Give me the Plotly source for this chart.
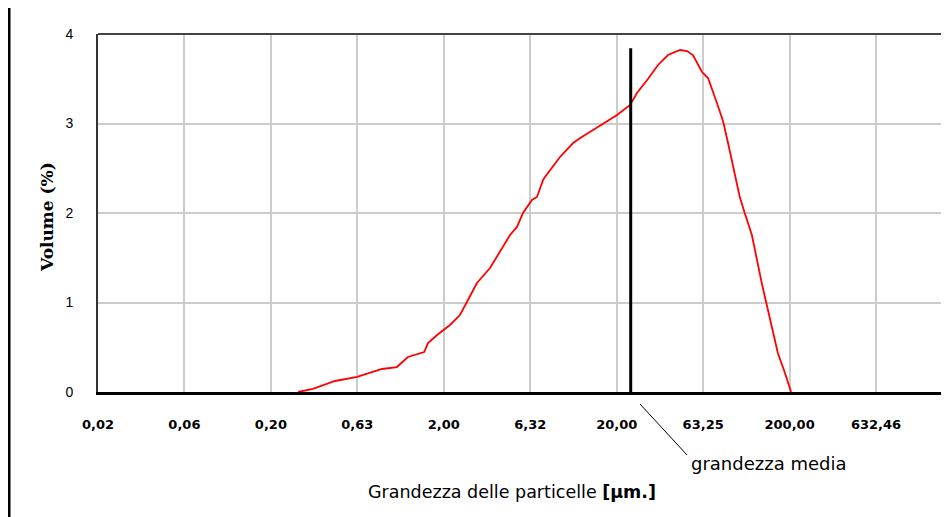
import math
import plotly.graph_objects as go

# Particle size distribution
size_um = [0.287, 0.350, 0.470, 0.630, 0.878, 1.07, 1.24, 1.54, 1.62, 1.83,
           2.17, 2.48, 2.72, 3.11, 3.70, 4.34, 4.83, 5.30, 5.74, 6.47,
           6.92, 7.50, 7.69, 9.40, 11.2, 12.3, 15.6, 17.6, 20.1, 23.9,
           26.2, 30.3, 34.7, 39.6, 46.5, 51.0, 55.2, 62.3, 67.5, 76.0,
           82.4, 88.1, 103, 110, 121, 138, 148, 158, 171, 188, 204]
volume_pct = [0.0, 0.034, 0.123, 0.168, 0.257, 0.279, 0.391, 0.447, 0.547, 0.637,
              0.749, 0.860, 1.006, 1.218, 1.385, 1.609, 1.754, 1.844, 2.0, 2.145,
              2.179, 2.369, 2.402, 2.626, 2.782, 2.838, 2.961, 3.017, 3.095, 3.207,
              3.341, 3.497, 3.654, 3.765, 3.821, 3.810, 3.765, 3.575, 3.508, 3.229,
              3.028, 2.782, 2.179, 2.0, 1.754, 1.218, 0.972, 0.726, 0.436, 0.212, 0.0]

mean_x = [24.1, 24.1]
mean_y = [0.0, 3.84]

x_tickvals = [0.02, 0.0632, 0.2, 0.632, 2.0, 6.32, 20.0, 63.25, 200.0, 632.46]
x_ticktext = ["0,02", "0,06", "0,20", "0,63", "2,00", "6,32", "20,00", "63,25", "200,00", "632,46"]
y_tickvals = [0, 1, 2, 3, 4]

fig = go.Figure()
fig.add_trace(go.Scatter(x=size_um, y=volume_pct, mode="lines",
                         line=dict(color="#ff0000", width=1.8), showlegend=False))
fig.add_trace(go.Scatter(x=mean_x, y=mean_y, mode="lines",
                         line=dict(color="#000000", width=3), showlegend=False))

# page body has an 8px margin: the figure starts at (8, 8) in the window
OFF = 8
W, H = 949 - OFF, 517 - OFF
L, T, B = 98 - OFF, 34 - OFF, 125
pw = W - L
ph = H - T - B
lo = math.log10(0.02)
hi = lo + pw / 172.9

fig.update_layout(
    width=W, height=H,
    margin=dict(l=L, r=0, t=T, b=B),
    paper_bgcolor="white", plot_bgcolor="white",
    xaxis=dict(type="log", range=[lo, hi], tickvals=x_tickvals, ticktext=x_ticktext,
               showgrid=True, gridcolor="#cccccc", gridwidth=1.5,
               showline=True, linecolor="#000000", linewidth=3,
               ticks="", ticklabelstandoff=18,
               tickfont=dict(family="DejaVu Sans", size=13, color="#000000", weight="bold"),
               zeroline=False),
    yaxis=dict(range=[0, 4], tickvals=y_tickvals,
               showgrid=True, gridcolor="#cccccc", gridwidth=1.5,
               showline=True, linecolor="#333333", linewidth=2,
               ticks="", ticklabelstandoff=20,
               tickfont=dict(family="Liberation Sans", size=14, color="#000000"),
               zeroline=False),
    font=dict(family="Liberation Sans", color="#000000"),
)

def px_x(p):
    return (p - OFF - L) / pw

def px_y(p):
    return (H + OFF - B - p) / ph

# top frame line
fig.add_shape(type="line", xref="paper", yref="paper", x0=0, x1=1, y0=1, y1=1,
              line=dict(color="#444444", width=2))
# left page border
fig.add_shape(type="line", xref="paper", yref="paper", x0=px_x(9), x1=px_x(9),
              y0=px_y(8), y1=px_y(517), line=dict(color="#000000", width=3))
# leader for the mean label
fig.add_shape(type="line", xref="paper", yref="paper", x0=px_x(640), x1=px_x(687),
              y0=px_y(404), y1=px_y(455), line=dict(color="#000000", width=1))

fig.add_annotation(xref="paper", yref="paper", x=px_x(689), y=px_y(463),
                   xanchor="left", yanchor="middle", showarrow=False,
                   text="grandezza media",
                   font=dict(family="DejaVu Sans", size=18, color="#000000"))
fig.add_annotation(xref="paper", yref="paper", x=px_x(512), y=px_y(492),
                   xanchor="center", yanchor="middle", showarrow=False,
                   text="Grandezza delle particelle <b>[µm.]</b>",
                   font=dict(family="DejaVu Sans", size=17.5, color="#000000"))
fig.add_annotation(xref="paper", yref="paper", x=px_x(47), y=px_y(217),
                   xanchor="center", yanchor="middle", showarrow=False, textangle=-90,
                   text="<b>Volume (%)</b>",
                   font=dict(family="DejaVu Serif", size=17, color="#000000"))

fig.write_html("out.html")
